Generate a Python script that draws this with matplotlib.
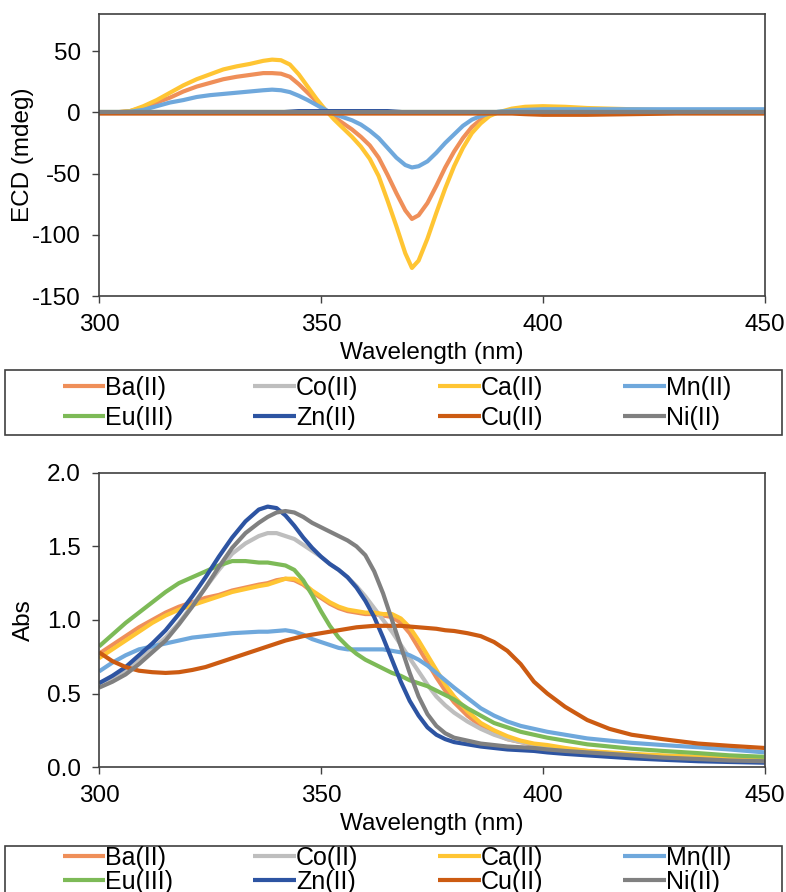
import matplotlib
matplotlib.use("Agg")
import matplotlib.pyplot as plt
from matplotlib.patches import Rectangle

plt.rcParams['font.family'] = ['Liberation Sans', 'DejaVu Sans']
plt.rcParams['axes.unicode_minus'] = False

# ---- data ----
names = ['Ba(II)', 'Co(II)', 'Ca(II)', 'Mn(II)', 'Eu(III)', 'Zn(II)', 'Cu(II)', 'Ni(II)']
colors = ['#EF8F59', '#BEBEBE', '#FFC533', '#6FA8DC', '#7DBA57', '#2D54A2', '#CC5B12', '#808080']

# ECD spectra (mdeg)
wl_ecd = [300, 304, 307, 310, 313, 316, 319, 322, 325, 328,
          331, 334, 337, 339, 341, 343, 345, 347, 349, 351,
          353, 355, 357, 359, 361, 363, 365, 367, 369, 370.5,
          372, 374, 376, 378, 380, 382, 384, 386, 388, 390,
          393, 396, 400, 405, 410, 420, 430, 440, 450]
ecd_ba = [0, 0, 1, 4, 8, 12, 17, 21, 24, 27,
          29, 30.5, 32, 32, 31.5, 29, 23, 16, 9, 2,
          -4, -9, -14, -20, -27, -37, -51, -66, -80, -87,
          -84, -74, -60, -45, -32, -21, -12, -6, -2, 0,
          1, 1, 1, 0.5, 0, 0, 0, 0, 0]
ecd_co = [0, 0, 0, 0, 0, 0, 0, 0, 0, 0,
          0, 0, 0, 0, 0, 0, 0, 0, 0, 0,
          0, 0, 0, 0, 0, 0, 0, 0, 0, 0,
          0, 0, 0, 0, 0, 0, 0, 0, 0, 0,
          0, 0, 0, 0, 0, 0, 0, 0, 0]
ecd_ca = [0, 0, 1, 5, 10, 16, 22, 27, 31, 35,
          37.5, 39.5, 42, 43, 42.5, 39, 31, 21, 11, 2,
          -6, -13, -20, -28, -38, -52, -72, -93, -115, -127,
          -121, -103, -82, -62, -44, -29, -17, -9, -3, 0,
          3, 4.5, 5, 4.5, 3.5, 2.5, 1.5, 1, 1]
ecd_mn = [0, 0, 0.5, 2, 5, 8, 10, 12.5, 14, 15,
          16, 17, 18, 18.5, 18, 16.5, 13.5, 10, 6, 2,
          -1.5, -4, -6.5, -10, -15, -21, -29, -37, -43, -45,
          -44, -40, -33, -25, -18, -11, -6, -3, -1, 0.5,
          1.5, 2, 2.5, 2.5, 2.5, 2.5, 2.5, 2.5, 2.5]
ecd_eu = [0, 0, 0, 0, 0, 0, 0, 0, 0, 0,
          0, 0, 0, 0, 0, 0, 0, 0, 0, 0,
          0, 0, 0, 0, 0, 0, 0, 0, 0, 0,
          0, 0, 0, 0, 0, 0, 0, 0, 0, 0,
          0, 0, 0, 0, 0, 0, 0, 0, 0]
ecd_zn = [0, 0, 0, 0, 0, 0, 0, 0, 0, 0,
          0, 0, 0, 0, 0, 0.5, 1, 1, 1, 1,
          1, 1, 1, 1, 1, 1, 1, 0.5, 0, 0,
          0, 0, 0, 0, 0, 0, 0, 0, 0, 0,
          0, 0, 0, 0, 0, 0, 0, 0, 0]
ecd_cu = [-1, -1, -1, -1, -1, -1, -1, -1, -1, -1,
          -1, -1, -1, -1, -1, -1, -1, -1, -1, -1,
          -1, -1, -1, -1, -1, -1, -1, -1, -1, -1,
          -1, -1, -1, -1, -1, -1, -1, -1, -1, -1,
          -1, -1.5, -2, -2, -2, -1.5, -1, -1, -1]
ecd_ni = [0, 0, 0, 0, 0, 0, 0, 0, 0, 0,
          0, 0, 0, 0, 0, 0, 0, 0, 0, 0,
          0, 0, 0, 0, 0, 0, 0, 0, 0, 0,
          0, 0, 0, 0, 0, 0, 0, 0, 0, 0,
          0, 0, 0, 0, 0, 0, 0, 0, 0]

# UV-vis absorbance
wl_abs = [300, 303, 306, 309, 312, 315, 318, 321, 324, 327,
          330, 333, 336, 338, 340, 342, 344, 346, 348, 350,
          352, 354, 356, 358, 360, 362, 364, 366, 368, 370,
          372, 374, 376, 378, 380, 383, 386, 389, 392, 395,
          398, 401, 405, 410, 415, 420, 427, 435, 442, 450]
abs_ba = [.77, .83, .89, .95, 1.00, 1.05, 1.09, 1.12, 1.15, 1.17,
          1.20, 1.22, 1.24, 1.25, 1.27, 1.28, 1.27, 1.24, 1.19, 1.15,
          1.11, 1.08, 1.06, 1.05, 1.04, 1.04, 1.03, 1.02, .98, .91,
          .81, .71, .61, .52, .44, .35, .28, .23, .19, .17,
          .15, .14, .12, .105, .095, .085, .075, .065, .055, .05]
abs_co = [.57, .61, .66, .73, .80, .88, .98, 1.10, 1.22, 1.34,
          1.45, 1.52, 1.57, 1.59, 1.59, 1.57, 1.55, 1.51, 1.47, 1.43,
          1.38, 1.34, 1.29, 1.23, 1.16, 1.08, 1.00, .92, .83, .74,
          .65, .56, .48, .42, .37, .31, .26, .22, .19, .17,
          .155, .14, .125, .11, .095, .085, .07, .06, .05, .04]
abs_ca = [.74, .80, .86, .92, .98, 1.03, 1.07, 1.10, 1.13, 1.16,
          1.19, 1.21, 1.23, 1.24, 1.26, 1.28, 1.28, 1.25, 1.20, 1.16,
          1.12, 1.09, 1.07, 1.06, 1.05, 1.05, 1.04, 1.04, 1.01, .95,
          .86, .76, .66, .56, .48, .38, .30, .25, .21, .18,
          .16, .15, .13, .11, .10, .09, .08, .07, .06, .05]
abs_mn = [.65, .71, .76, .80, .82, .84, .86, .88, .89, .90,
          .91, .915, .92, .92, .925, .93, .92, .90, .87, .85,
          .83, .81, .80, .80, .80, .80, .80, .79, .78, .76,
          .73, .69, .64, .59, .54, .47, .40, .35, .31, .28,
          .26, .24, .22, .195, .18, .165, .15, .135, .12, .10]
abs_eu = [.82, .90, .98, 1.05, 1.12, 1.19, 1.25, 1.29, 1.33, 1.37,
          1.40, 1.40, 1.39, 1.39, 1.38, 1.37, 1.34, 1.27, 1.17, 1.06,
          .96, .88, .82, .77, .73, .70, .67, .64, .62, .59,
          .57, .55, .52, .49, .46, .40, .35, .30, .27, .24,
          .22, .20, .18, .155, .14, .125, .11, .095, .08, .07]
abs_zn = [.57, .62, .68, .76, .84, .93, 1.04, 1.16, 1.29, 1.43,
          1.56, 1.67, 1.75, 1.77, 1.76, 1.71, 1.64, 1.56, 1.49, 1.43,
          1.38, 1.34, 1.29, 1.22, 1.13, 1.02, .88, .73, .58, .45,
          .35, .27, .22, .19, .17, .155, .14, .13, .12, .115,
          .11, .10, .09, .08, .07, .06, .05, .04, .035, .03]
abs_cu = [.78, .72, .68, .655, .645, .64, .645, .66, .68, .71,
          .74, .77, .80, .82, .84, .86, .875, .89, .90, .91,
          .92, .93, .94, .95, .955, .96, .96, .96, .96, .955,
          .95, .945, .94, .93, .925, .91, .89, .85, .79, .70,
          .58, .50, .41, .32, .26, .22, .19, .16, .145, .13]
abs_ni = [.54, .58, .63, .70, .78, .86, .97, 1.09, 1.22, 1.36,
          1.49, 1.59, 1.66, 1.70, 1.73, 1.74, 1.73, 1.70, 1.66, 1.63,
          1.60, 1.57, 1.54, 1.50, 1.44, 1.33, 1.18, 1.00, .82, .64,
          .48, .36, .28, .23, .20, .18, .16, .15, .14, .135,
          .13, .12, .11, .10, .09, .08, .065, .055, .045, .04]

ecd_all = [ecd_ba, ecd_co, ecd_ca, ecd_mn, ecd_eu, ecd_zn, ecd_cu, ecd_ni]
abs_all = [abs_ba, abs_co, abs_ca, abs_mn, abs_eu, abs_zn, abs_cu, abs_ni]

fig = plt.figure(figsize=(7.86, 8.92), dpi=100)
ax1 = fig.add_axes([0.126, 0.668, 0.847, 0.316])
ax2 = fig.add_axes([0.126, 0.140, 0.847, 0.330])

spine_c = '#404040'
fs = 17.5


def style(ax):
    for s in ax.spines.values():
        s.set_color(spine_c)
        s.set_linewidth(1.2)
    ax.tick_params(direction='out', length=5, width=1, color=spine_c,
                   labelsize=fs, pad=8)
    ax.set_xlim(300, 450)
    ax.set_xticks([300, 350, 400, 450])
    ax.set_xlabel('Wavelength (nm)', fontsize=fs, labelpad=4)


for i in range(8):
    ax1.plot(wl_ecd, ecd_all[i], color=colors[i], lw=3, label=names[i],
             solid_joinstyle='round', solid_capstyle='butt')
    ax2.plot(wl_abs, abs_all[i], color=colors[i], lw=3, label=names[i],
             solid_joinstyle='round', solid_capstyle='butt')

style(ax1)
ax1.set_ylim(-150, 80)
ax1.set_yticks([-150, -100, -50, 0, 50])
ax1.set_ylabel('ECD (mdeg)', fontsize=fs)
ax1.yaxis.set_label_coords(-0.097, 0.5)

style(ax2)
ax2.set_ylim(0, 2.0)
ax2.set_yticks([0, 0.5, 1.0, 1.5, 2.0])
ax2.set_yticklabels(['0.0', '0.5', '1.0', '1.5', '2.0'])
ax2.set_ylabel('Abs', fontsize=fs)
ax2.yaxis.set_label_coords(-0.097, 0.5)

# legends: row-wise order, drawn without frame, box drawn separately
order = [0, 4, 1, 5, 2, 6, 3, 7]
W, H = 786.0, 892.0
for ax, top, mid, sp in [(ax1, 370, 33, 0.25), (ax2, 846, 24, 0.0)]:
    h, l = ax.get_legend_handles_labels()
    box_h = 65
    fig.patches.append(Rectangle((5 / W, 1 - (top + box_h) / H), 777 / W, box_h / H,
                                 transform=fig.transFigure, fill=False,
                                 edgecolor=spine_c, linewidth=1.2))
    fig.legend([h[k] for k in order], [l[k] for k in order], ncol=4, loc='center',
               bbox_to_anchor=(397 / W, 1 - (top + mid) / H), frameon=False,
               fontsize=18, handlelength=1.7, handletextpad=0.0,
               labelspacing=sp, columnspacing=3.2, borderpad=0, borderaxespad=0)

fig.savefig('out.png', dpi=100)
